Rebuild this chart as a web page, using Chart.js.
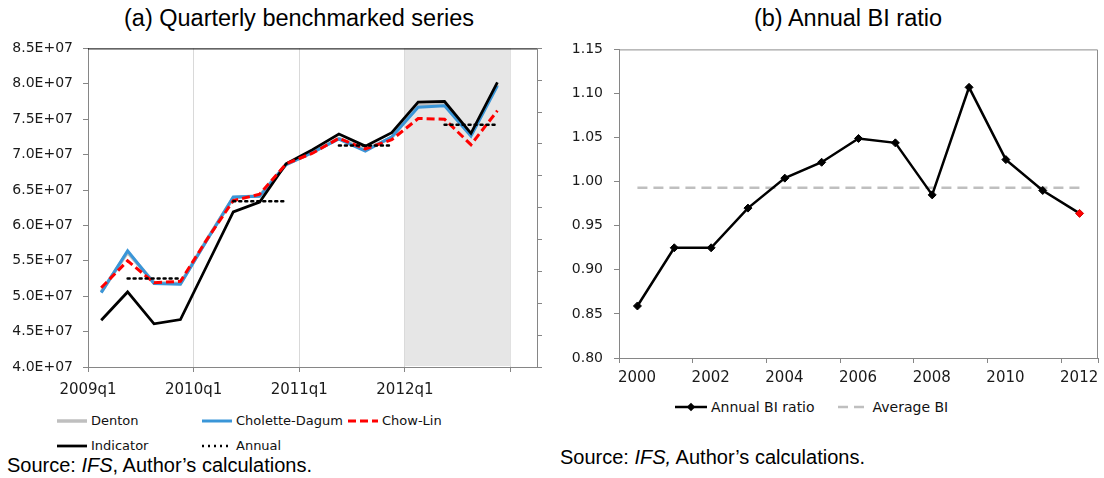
<!DOCTYPE html>
<html>
<head>
<meta charset="utf-8">
<script src="https://cdn.jsdelivr.net/npm/chart.js@4.4.0/dist/chart.umd.min.js"></script>
<style>
  body { margin: 0; width: 1104px; height: 478px; background: #fff; position: relative; overflow: hidden; font-family: 'Liberation Sans', Arial, sans-serif; color: #000; }
  .title { position: absolute; top: 7px; font-size: 23.5px; line-height: 1; white-space: nowrap; transform: translateX(-50%); }
  .src { position: absolute; font-size: 20px; line-height: 1; white-space: nowrap; }
  #chartA { position: absolute; left: 0; top: 30px; }
  #chartB { position: absolute; left: 552px; top: 30px; }
  #legendA { position: absolute; left: 57px; top: 408px; display: grid; grid-template-columns: 145px 146px 130px; grid-auto-rows: 25px; font: 13px 'DejaVu Sans'; color: #111; }
  #legendB { position: absolute; left: 675px; top: 398px; height: 18px; display: flex; align-items: center; font: 14px 'DejaVu Sans'; color: #111; }
  .item { display: flex; align-items: center; white-space: nowrap; }
  .item svg { flex: none; margin-right: 4px; }
</style>
</head>
<body>
<div class="title" style="left:299px">(a) Quarterly benchmarked series</div>
<div class="title" style="left:848px">(b) Annual BI ratio</div>

<canvas id="chartA" width="545" height="370"></canvas>
<canvas id="chartB" width="552" height="357"></canvas>

<div id="legendA"></div>
<div id="legendB"></div>

<div class="src" style="left:7px;top:455px">Source: <i>IFS</i>, Author’s calculations.</div>
<div class="src" style="left:560px;top:447px">Source: <i>IFS,</i> Author’s calculations.</div>

<script>
// (a) quarterly series
const quarters = ['2009q1','2009q2','2009q3','2009q4','2010q1','2010q2','2010q3','2010q4',
                  '2011q1','2011q2','2011q3','2011q4','2012q1','2012q2','2012q3','2012q4'];
const denton        = [5.06e7, 5.62e7, 5.19e7, 5.18e7, 5.80e7, 6.39e7, 6.42e7, 6.86e7, 7.03e7, 7.23e7, 7.07e7, 7.24e7, 7.69e7, 7.71e7, 7.28e7, 7.99e7];
const choletteDagum = [5.05e7, 5.64e7, 5.18e7, 5.17e7, 5.79e7, 6.40e7, 6.41e7, 6.86e7, 7.03e7, 7.22e7, 7.05e7, 7.25e7, 7.67e7, 7.69e7, 7.26e7, 7.97e7];
const chowLin       = [5.12e7, 5.50e7, 5.19e7, 5.21e7, 5.80e7, 6.35e7, 6.44e7, 6.87e7, 7.02e7, 7.23e7, 7.08e7, 7.21e7, 7.51e7, 7.50e7, 7.14e7, 7.62e7];
const indicator     = [4.66e7, 5.06e7, 4.61e7, 4.67e7, 5.43e7, 6.19e7, 6.33e7, 6.87e7, 7.07e7, 7.29e7, 7.12e7, 7.31e7, 7.74e7, 7.75e7, 7.30e7, 8.02e7];
const annual        = [null, 5.25e7, 5.25e7, 5.25e7, null, 6.34e7, 6.34e7, 6.34e7, null, 7.13e7, 7.13e7, 7.13e7, null, 7.42e7, 7.42e7, 7.42e7];
const shadedFrom = '2012q1';

// (b) annual BI ratio
const years   = [2000, 2001, 2002, 2003, 2004, 2005, 2006, 2007, 2008, 2009, 2010, 2011, 2012];
const biRatio = [0.859, 0.925, 0.925, 0.970, 1.004, 1.022, 1.049, 1.044, 0.985, 1.107, 1.025, 0.990, 0.964];
const avgBI   = [0.993, 0.993, 0.993, 0.993, 0.993, 0.993, 0.993, 0.993, 0.993, 0.993, 0.993, 0.993, 0.993];

Chart.defaults.font.family = "'DejaVu Sans', sans-serif";
Chart.defaults.color = '#1a1a1a';
const axisGray = '#868686';

// quarter i sits in the middle of its slot
const qPts = arr => arr.map((v, i) => ({ x: i + 0.5, y: v }));

const dsA = [
  { label: 'Annual', data: qPts(annual), borderColor: '#000', borderWidth: 2.5, borderDash: [2, 4], borderCapStyle: 'round' },
  { label: 'Chow-Lin', data: qPts(chowLin), borderColor: '#ff0000', borderWidth: 3, borderDash: [8, 4] },
  { label: 'Indicator', data: qPts(indicator), borderColor: '#000', borderWidth: 2.75 },
  { label: 'Cholette-Dagum', data: qPts(choletteDagum), borderColor: '#3a96d8', borderWidth: 3 },
  { label: 'Denton', data: qPts(denton), borderColor: '#bfbfbf', borderWidth: 3.5 }
];
dsA.forEach(d => { d.pointRadius = 0; d.tension = 0; d.fill = false; d.spanGaps = false; });

const shadePlugin = {
  id: 'shade',
  beforeDatasetsDraw(chart) {
    const { ctx, chartArea: a, scales: { x } } = chart;
    const x0 = x.getPixelForValue(quarters.indexOf(shadedFrom));
    const x1 = x.getPixelForValue(quarters.length);
    ctx.save();
    ctx.fillStyle = '#e6e6e6';
    ctx.fillRect(x0, a.top, x1 - x0, a.bottom - a.top - 1);
    ctx.strokeStyle = '#000';
    ctx.lineWidth = 1;
    ctx.beginPath();
    ctx.moveTo(a.left, a.top + 0.5);
    ctx.lineTo(a.right, a.top + 0.5);
    ctx.stroke();
    ctx.restore();
  }
};

new Chart(document.getElementById('chartA'), {
  type: 'line',
  data: { datasets: dsA },
  options: {
    responsive: false,
    animation: false,
    layout: { padding: { top: 18, right: 0, bottom: 0, left: 0 } },
    plugins: { legend: { display: false }, tooltip: { enabled: false } },
    scales: {
      x: {
        type: 'linear', min: 0, max: quarters.length + 1,
        afterBuildTicks: s => { s.ticks = [0, 4, 8, 12, 16].map(v => ({ value: v })); },
        afterFit: s => { s.height = 33; },
        ticks: { callback: v => quarters[v] || '', autoSkip: false, maxRotation: 0, padding: 9, font: { size: 15 } },
        grid: { color: '#d9d9d9', tickColor: axisGray, tickLength: 5 },
        border: { color: axisGray }
      },
      y: {
        min: 4e7, max: 8.5e7,
        afterFit: s => { s.width = 88; },
        ticks: { stepSize: 5e6, padding: 10, font: { size: 14 }, callback: v => (v / 1e7).toFixed(1) + 'E+07' },
        grid: { drawOnChartArea: false, tickColor: axisGray, tickLength: 5 },
        border: { color: axisGray }
      },
      y2: {
        position: 'right', min: 0, max: 10,
        afterFit: s => { s.width = 8; },
        ticks: { display: false, stepSize: 1 },
        grid: { drawOnChartArea: false, tickColor: axisGray, tickLength: 5 },
        border: { color: axisGray }
      }
    }
  },
  plugins: [shadePlugin]
});

// (b)
const dsB = [
  { label: 'Annual BI ratio', data: biRatio.map((v, i) => ({ x: i, y: v })), borderColor: '#000', borderWidth: 2.5,
    pointStyle: 'rectRot', pointRadius: 4, pointBorderWidth: 1,
    pointBackgroundColor: biRatio.map((v, i) => i === biRatio.length - 1 ? '#ff0000' : '#000'),
    pointBorderColor: biRatio.map((v, i) => i === biRatio.length - 1 ? '#d00000' : '#000') },
  { label: 'Average BI', data: avgBI.map((v, i) => ({ x: i, y: v })), borderColor: '#bfbfbf', borderWidth: 2.5, borderDash: [10, 6], pointRadius: 0 }
];

const framePlugin = {
  id: 'frame',
  afterDatasetsDraw(chart) {
    const { ctx, chartArea: a } = chart;
    ctx.save();
    ctx.strokeStyle = '#8c8c8c';
    ctx.lineWidth = 1;
    ctx.beginPath();
    ctx.moveTo(a.left, a.top + 0.5);
    ctx.lineTo(a.right - 0.5, a.top + 0.5);
    ctx.lineTo(a.right - 0.5, a.bottom);
    ctx.stroke();
    ctx.restore();
  }
};

new Chart(document.getElementById('chartB'), {
  type: 'line',
  data: { datasets: dsB },
  options: {
    responsive: false,
    animation: false,
    layout: { padding: { top: 17, right: 6, bottom: 0, left: 0 } },
    plugins: { legend: { display: false }, tooltip: { enabled: false } },
    scales: {
      x: {
        type: 'linear', min: -0.5, max: years.length - 0.5,
        afterBuildTicks: s => {
          const t = [];
          for (let i = 0; i <= years.length; i += 2) t.push({ value: i - 0.5 });
          t.push({ value: years.length - 0.5 });
          s.ticks = t;
        },
        afterFit: s => { s.height = 29; },
        ticks: { callback: v => years[v + 0.5] || '', autoSkip: false, maxRotation: 0, padding: 6, labelOffset: 18, font: { size: 15 } },
        grid: { drawOnChartArea: false, tickColor: axisGray, tickLength: 5 },
        border: { color: axisGray }
      },
      y: {
        min: 0.8, max: 1.15,
        afterFit: s => { s.width = 67; },
        ticks: { stepSize: 0.05, padding: 11, font: { size: 14 }, callback: v => v.toFixed(2) },
        grid: { drawOnChartArea: false, tickColor: axisGray, tickLength: 5 },
        border: { color: axisGray }
      }
    }
  },
  plugins: [framePlugin]
});

// legends, Excel style
function sample(ds, w) {
  const dash = (ds.borderDash || []).join(',');
  let s = `<svg width="${w}" height="10"><line x1="0" y1="5" x2="${w}" y2="5" stroke="${ds.borderColor}" stroke-width="${ds.borderWidth}" stroke-dasharray="${dash}"/>`;
  if (ds.pointRadius) s += `<rect x="${w / 2 - 3}" y="2" width="6" height="6" fill="#000" transform="rotate(45 ${w / 2} 5)"/>`;
  return s + '</svg>';
}
const legendA = document.getElementById('legendA');
['Denton', 'Cholette-Dagum', 'Chow-Lin', 'Indicator', 'Annual'].forEach(name => {
  const ds = dsA.find(d => d.label === name);
  const item = document.createElement('div');
  item.className = 'item';
  item.innerHTML = sample(ds, 30) + name;
  legendA.appendChild(item);
});
const legendB = document.getElementById('legendB');
dsB.forEach((ds, i) => {
  const item = document.createElement('div');
  item.className = 'item';
  if (i > 0) item.style.marginLeft = '23px';
  item.innerHTML = sample(ds, i ? 28 : 32) + (i ? '<span style="margin-left:3px">' + ds.label + '</span>' : ds.label);
  legendB.appendChild(item);
});
</script>
</body>
</html>
